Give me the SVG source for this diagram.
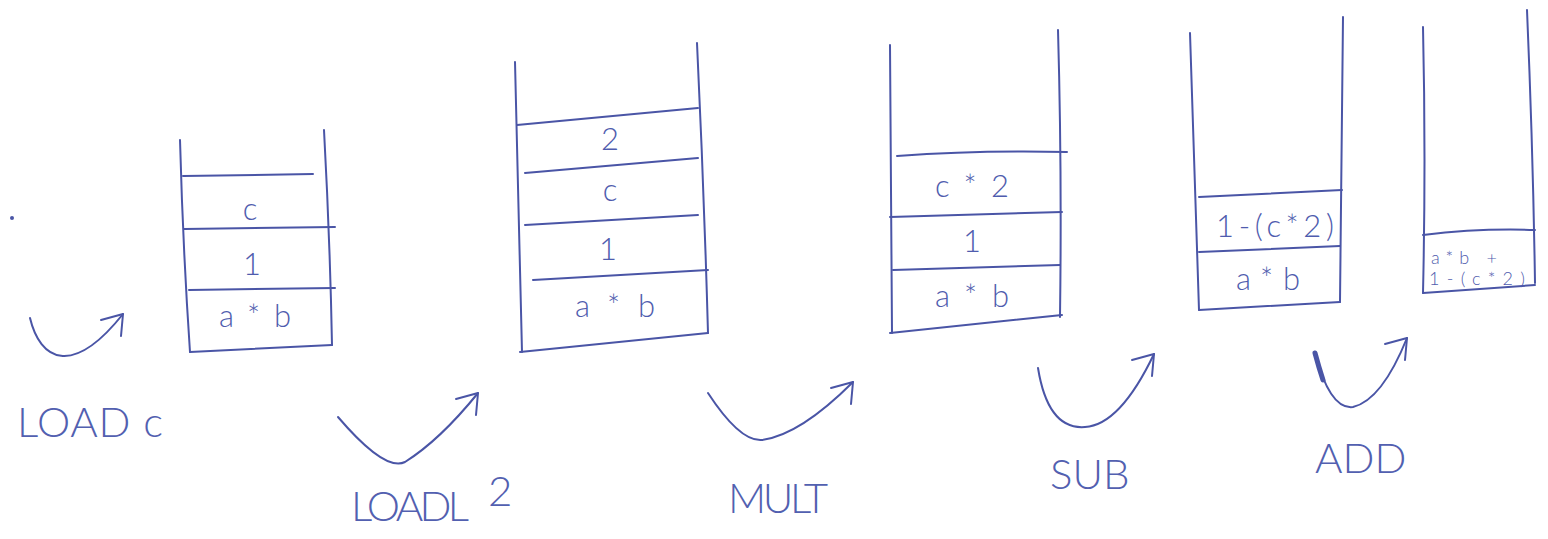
<svg xmlns="http://www.w3.org/2000/svg" width="1548" height="539" viewBox="0 0 1548 539">
  <defs>
    <style>
      .wall { fill: none; stroke: #4a55a6; stroke-width: 2; stroke-linecap: round; stroke-linejoin: round; }
      .cell { font-family: "Lato", "Liberation Sans", sans-serif; font-weight: 300; font-size: 31px; fill: #4f5cae; text-anchor: middle; }
      .small { font-family: "Lato", "Liberation Sans", sans-serif; font-weight: 300; font-size: 18px; fill: #4f5cae; }
      .op { font-family: "Lato", "Liberation Sans", sans-serif; font-weight: 300; font-size: 42px; fill: #5260b0; }
      .step { fill: none; stroke: #4a55a6; stroke-width: 2; stroke-linecap: round; marker-end: url(#hook); }
    </style>
    <!-- open, hand-drawn style arrowhead: a short stroke to the left and one downwards -->
    <marker id="hook" viewBox="-26 -4 30 30" refX="0" refY="0" markerWidth="30" markerHeight="30" markerUnits="userSpaceOnUse" orient="0" overflow="visible">
      <path d="M-22,6 L0,0 L-2,22" fill="none" stroke="#4a55a6" stroke-width="2" stroke-linecap="round" stroke-linejoin="round"/>
    </marker>
  </defs>

  <rect width="1548" height="539" fill="#ffffff"/>

  <!-- stray pen dot -->
  <circle cx="12" cy="218" r="2" fill="#4a55a6"/>

  <!-- stack after LOAD c -->
  <g id="stack-1">
    <path class="wall" d="M180,140 Q183,250 190,352"/>
    <path class="wall" d="M324,130 Q330,240 332,345"/>
    <path class="wall" d="M183,176 L313,174"/>
    <path class="wall" d="M184,229 L335,227"/>
    <path class="wall" d="M189,290 L335,288"/>
    <path class="wall" d="M190,352 L332,345"/>
    <text class="cell" x="250" y="220">c</text>
    <text class="cell" x="252" y="275">1</text>
    <text class="cell" x="255" y="327" textLength="72" lengthAdjust="spacing">a*b</text>
  </g>

  <!-- stack after LOADL 2 -->
  <g id="stack-2">
    <path class="wall" d="M515,62 Q518,200 522,352"/>
    <path class="wall" d="M697,43 Q704,190 708,333"/>
    <path class="wall" d="M517,125 L698,108"/>
    <path class="wall" d="M525,173 L698,158"/>
    <path class="wall" d="M525,225 L698,215"/>
    <path class="wall" d="M533,280 L708,270"/>
    <path class="wall" d="M520,352 L708,333"/>
    <text class="cell" x="610" y="150">2</text>
    <text class="cell" x="610" y="201">c</text>
    <text class="cell" x="608" y="260">1</text>
    <text class="cell" x="615" y="317" textLength="80" lengthAdjust="spacing">a*b</text>
  </g>

  <!-- stack after MULT -->
  <g id="stack-3">
    <path class="wall" d="M890,45 L892,333"/>
    <path class="wall" d="M1058,30 Q1062,170 1060,317"/>
    <path class="wall" d="M897,156 Q980,150 1067,152"/>
    <path class="wall" d="M890,217 L1062,212"/>
    <path class="wall" d="M893,270 L1060,265"/>
    <path class="wall" d="M890,333 L1062,315"/>
    <text class="cell" x="972" y="197" textLength="74" lengthAdjust="spacing">c*2</text>
    <text class="cell" x="972" y="252">1</text>
    <text class="cell" x="972" y="307" textLength="74" lengthAdjust="spacing">a*b</text>
  </g>

  <!-- stack after SUB -->
  <g id="stack-4">
    <path class="wall" d="M1190,33 Q1195,200 1199,310"/>
    <path class="wall" d="M1343,17 Q1342,160 1340,302"/>
    <path class="wall" d="M1199,197 L1342,190"/>
    <path class="wall" d="M1199,252 L1340,246"/>
    <path class="wall" d="M1199,310 L1340,302"/>
    <text class="cell" x="1275" y="237" textLength="118" lengthAdjust="spacing">1-(c*2)</text>
    <text class="cell" x="1268" y="290" textLength="64" lengthAdjust="spacing">a*b</text>
  </g>

  <!-- stack after ADD -->
  <g id="stack-5">
    <path class="wall" d="M1423,27 Q1426,160 1423,293"/>
    <path class="wall" d="M1527,10 Q1533,150 1535,283"/>
    <path class="wall" d="M1423,235 Q1480,228 1535,230"/>
    <path class="wall" d="M1423,293 L1535,285"/>
    <text class="small" x="1431" y="264" textLength="66" lengthAdjust="spacing">a*b +</text>
    <text class="small" x="1429" y="285" textLength="96" lengthAdjust="spacing">1-(c*2)</text>
  </g>

  <!-- transition arrows between stacks -->
  <g id="connectors">
    <path class="step" d="M30,318 C40,360 72,378 123,314"/>
    <path class="step" d="M338,417 Q385,472 405,462 Q440,440 478,393"/>
    <path class="step" d="M708,393 Q740,442 762,440 Q800,435 853,382"/>
    <path class="step" d="M1038,368 Q1048,430 1085,427 Q1120,425 1154,354"/>
    <path d="M1315,353 Q1319,368 1323,380" fill="none" stroke="#4a55a6" stroke-width="5" stroke-linecap="round"/>
    <path class="step" d="M1315,353 Q1330,410 1353,407 Q1382,400 1407,338"/>
  </g>

  <!-- instruction labels -->
  <g id="labels">
    <text class="op" x="17" y="437" textLength="146" lengthAdjust="spacing">LOAD c</text>
    <text class="op" x="351" y="521" textLength="118" lengthAdjust="spacing">LOADL </text>
    <text class="op" x="488" y="506" font-size="22">2</text>
    <text class="op" x="728" y="513" textLength="100" lengthAdjust="spacing">MULT</text>
    <text class="op" x="1050" y="489" font-size="38">SUB</text>
    <text class="op" x="1315" y="473" font-size="37">ADD</text>
  </g>
</svg>
